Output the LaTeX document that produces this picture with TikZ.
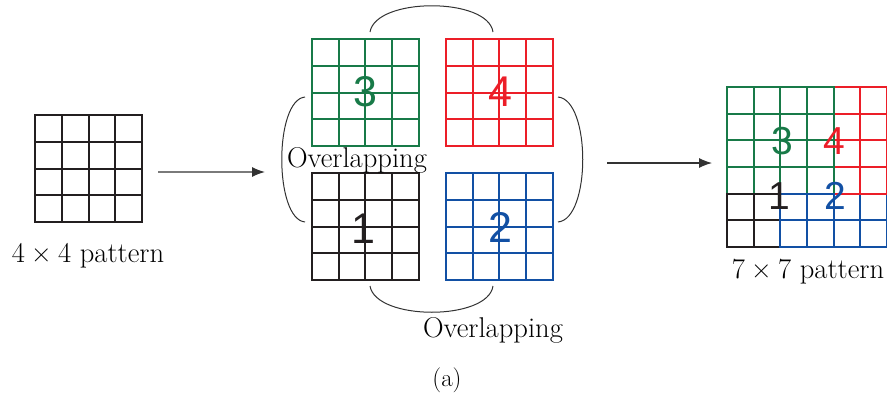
\documentclass[tikz,border=0pt]{standalone}
\usepackage{fontspec}
\usetikzlibrary{arrows.meta,calc}
\newfontfamily\digitfont{Liberation Sans}
\definecolor{gridgreen}{RGB}{24,122,72}
\definecolor{gridred}{RGB}{236,30,40}
\definecolor{gridblue}{RGB}{18,80,164}
\definecolor{gridblack}{RGB}{35,31,32}
\definecolor{arcgray}{RGB}{50,50,50}

\newcommand{\by}{\hspace{0.22em}×\hspace{0.22em}}

\tikzset{
  cellgrid/.style={line width=1.9pt, line cap=rect},
  patch/.style={draw=none, minimum width=106.7pt, minimum height=106.7pt, inner sep=0pt},
  caption/.style={inner sep=0pt, anchor=center, font=\fontsize{28.6}{32}\selectfont},
  bigdigit/.style={inner sep=0pt, font=\digitfont\fontsize{43}{46}\selectfont},
  smalldigit/.style={inner sep=0pt, font=\digitfont\fontsize{39}{42}\selectfont},
  bracket/.style={draw=arcgray, line width=1pt},
  flow/.style={draw=arcgray, line width=1.3pt, -{Latex[length=13pt, width=10pt]}}
}

% cell lattice: origin x, origin y, cell size, columns a..b, rows c..d, colour
\newcommand{\cells}[8]{%
  \foreach \i in {#4,...,#5} {
    \draw[cellgrid, draw=#8] ({#1+\i*#3},{#2+#6*#3}) -- ({#1+\i*#3},{#2+#7*#3});
  }
  \foreach \j in {#6,...,#7} {
    \draw[cellgrid, draw=#8] ({#1+#4*#3},{#2+\j*#3}) -- ({#1+#5*#3},{#2+\j*#3});
  }}

\begin{document}
\begin{tikzpicture}[x=1pt, y=-1pt]
  \useasboundingbox (0,0) rectangle (887,394);

  % input pattern
  \cells{35.3}{115.3}{26.675}{0}{4}{0}{4}{gridblack}
  \node[patch] (input) at (88.65,168.65) {};
  \node[caption] (inlabel) at (88,256) {4\by4 pattern};

  % four shifted copies
  \cells{312}{39.3}{26.675}{0}{4}{0}{4}{gridgreen}
  \cells{446}{39.3}{26.675}{0}{4}{0}{4}{gridred}
  \cells{312}{173.3}{26.675}{0}{4}{0}{4}{gridblack}
  \cells{446}{173.3}{26.675}{0}{4}{0}{4}{gridblue}
  \node[patch] (p3) at (365.35,92.65) {};
  \node[patch] (p4) at (499.35,92.65) {};
  \node[patch] (p1) at (365.35,226.65) {};
  \node[patch] (p2) at (499.35,226.65) {};
  \node[bigdigit, text=gridgreen] (d3) at (365.5,92) {3};
  \node[bigdigit, text=gridred]   (d4) at (500,92) {4};
  \node[bigdigit, text=gridblack] (d1) at (363,229) {1};
  \node[bigdigit, text=gridblue]  (d2) at (500,227) {2};

  % overlap brackets
  \draw[bracket] (370,32) .. controls (376,-3) and (488,-3) .. (493,32);
  \draw[bracket] (370,286) .. controls (376,321) and (488,321) .. (493,286);
  \draw[bracket] (305,97) .. controls (274,100) and (274,219) .. (305,222);
  \draw[bracket] (558,97) .. controls (591,100) and (591,219) .. (558,222);
  \node[caption] (ov1) at (357,160) {Overlapping};
  \node[caption] (ov2) at (493,330) {Overlapping};

  % combined pattern, later layers on top
  \cells{727.3}{87.3}{26.57}{0}{4}{2}{6}{gridblack}
  \cells{727.3}{87.3}{26.57}{2}{6}{2}{6}{gridblue}
  \cells{727.3}{87.3}{26.57}{2}{6}{0}{4}{gridred}
  \cells{727.3}{87.3}{26.57}{0}{4}{0}{4}{gridgreen}
  \cells{727.3}{87.3}{26.57}{0}{2}{4}{4}{gridblack}
  \cells{727.3}{87.3}{26.57}{2}{4}{4}{4}{gridblue}
  \node[patch, minimum width=159.4pt, minimum height=159.4pt] (combo) at (807,167) {};
  \node[smalldigit, text=gridgreen] (c3) at (782,141) {3};
  \node[smalldigit, text=gridred]   (c4) at (834,141) {4};
  \node[smalldigit, text=gridblack] (c1) at (779,196) {1};
  \node[smalldigit, text=gridblue]  (c2) at (835,196) {2};
  \node[caption] (outlabel) at (808,272) {7\by7 pattern};

  % flow arrows
  \coordinate (a1s) at ($(input.east)+(16,3.4)$);
  \coordinate (a1e) at (265,172);
  \coordinate (a2s) at (607,163);
  \coordinate (a2e) at ($(combo.west)+(-15,-4)$);
  \draw[flow] (a1s) -- (a1e);
  \draw[flow] (a2s) -- (a2e);

  \node[caption, font=\fontsize{25}{28}\selectfont] (sub) at (447,380) {(a)};
\end{tikzpicture}
\end{document}
